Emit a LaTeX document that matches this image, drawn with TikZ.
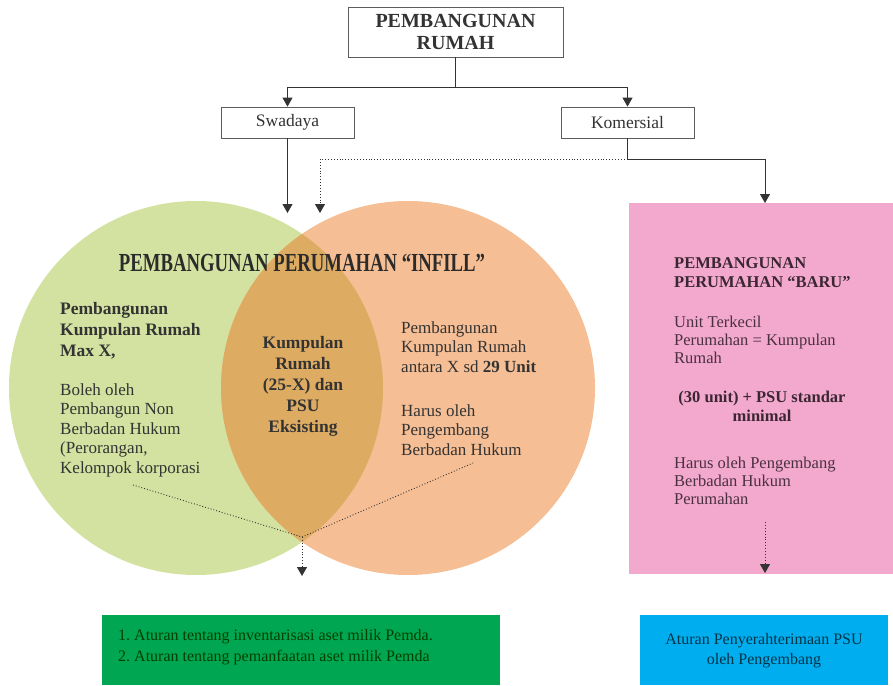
\documentclass[tikz,border=0pt]{standalone}
\usepackage{fontspec}
\usepackage{graphicx}
\setmainfont{Liberation Serif}
\usetikzlibrary{arrows.meta}
\definecolor{cgreen}{HTML}{D3E2A0}
\definecolor{corange}{HTML}{F6BE94}
\definecolor{coverlap}{HTML}{DDAB62}
\definecolor{cpink}{HTML}{F3A9CE}
\definecolor{cgbox}{HTML}{00A651}
\definecolor{cbbox}{HTML}{00AEEF}
\definecolor{ctext}{HTML}{333333}
\definecolor{cptext}{HTML}{4A3040}
\definecolor{cline}{HTML}{333333}
\begin{document}
\frenchspacing
\begin{tikzpicture}[x=1pt,y=-1pt,
  box/.style={draw=cline!80, line width=0.8pt, fill=white, inner sep=0pt},
  arr/.style={draw=cline, line width=0.9pt, -{Triangle[width=10pt,length=9pt]}},
  plain/.style={draw=cline, line width=0.9pt},
  dot/.style={draw=cline, line width=0.9pt, dotted},
  txt/.style={inner sep=0pt, text=ctext, align=left, anchor=north west},
  ctxt/.style={inner sep=0pt, text=ctext, align=center, anchor=north},
  body/.style={font=\fontsize{17}{19.5}\selectfont},
  bbody/.style={font=\fontsize{17.5}{21}\selectfont\bfseries},
  pbody/.style={font=\fontsize{16.5}{18}\selectfont},
  pbold/.style={font=\fontsize{16.5}{19}\selectfont\bfseries}]
\useasboundingbox (0,0) rectangle (893,685);

% top boxes
\node[box, minimum width=215pt, minimum height=50pt, align=center,
  font=\fontsize{20}{22}\selectfont\bfseries, text=ctext] (top) at (455.5,32) {PEMBANGUNAN\\RUMAH};
\node[box, minimum width=133pt, minimum height=31pt, font=\fontsize{17.5}{20}\selectfont, text=ctext] (swa) at (287.5,122.5) {Swadaya};
\node[box, minimum width=133pt, minimum height=31pt, font=\fontsize{17.5}{20}\selectfont, text=ctext] (kom) at (627.5,122.5) {Komersial};

% circles
\node[circle, fill=cgreen, minimum size=374pt, inner sep=0pt] (gc) at (196,388) {};
\node[circle, fill=corange, minimum size=374pt, inner sep=0pt] (oc) at (408,388) {};
\begin{scope}
  \clip (gc.center) circle[radius=187pt];
  \fill[coverlap] (oc.center) circle[radius=187pt];
\end{scope}

% pink box
\node[fill=cpink, minimum width=264pt, minimum height=371pt, inner sep=0pt, anchor=north west] (pink) at (629,203) {};

% bottom boxes
\node[fill=cgbox, minimum width=398pt, minimum height=70pt, inner sep=0pt, anchor=north west] (gbox) at (102,615) {};
\node[fill=cbbox, minimum width=248pt, minimum height=70pt, inner sep=0pt, anchor=north west] (bbox) at (640,615) {};

% coordinates
\coordinate (j1) at (455.5,87);
\coordinate (a1) at (287.5,213);
\coordinate (a2) at (320,213);
\coordinate (kj) at (627.5,159);
\coordinate (pin) at (765,203);
\coordinate (meet) at (302,537);
\coordinate (l1) at (133,485);
\coordinate (r1) at (473,463);
\coordinate (mdown) at (302,576);
\coordinate (ptop) at (765,522);
\coordinate (pdown) at (765,573);

% connectors
\draw[plain] (top.south) -- (j1);
\draw[arr] (j1) -| (swa.north);
\draw[arr] (j1) -| (kom.north);
\draw[arr] (swa.south) -- (a1);
\draw[plain] (kom.south) -- (kj);
\draw[arr] (kj) -| (pin);
\draw[dot] (kj) -| ([yshift=6pt]a2);
\draw[arr] ([yshift=6pt]a2) -- (a2);
\draw[dot] (l1) -- (meet) -- (r1);
\draw[dot] (meet) -- ([yshift=6pt]mdown);
\draw[arr] ([yshift=6pt]mdown) -- (mdown);
\draw[dot] (ptop) -- ([yshift=6pt]pdown);
\draw[arr] ([yshift=6pt]pdown) -- (pdown);

% title
\node[inner sep=0pt, text=ctext!85!black, font=\fontsize{26}{28}\selectfont\bfseries] (title) at (302,263)
  {\scalebox{0.72}[1]{PEMBANGUNAN PERUMAHAN “INFILL”}};

% left circle texts
\node[txt, bbody] (lt1) at (60,302) {Pembangunan\\Kumpulan Rumah\\Max X,};
\node[txt, body] (lt2) at (60,383) {Boleh oleh\\Pembangun Non\\Berbadan Hukum\\(Perorangan,\\Kelompok korporasi};
% lens text
\node[ctxt, bbody] (mt) at (303,336) {Kumpulan\\Rumah\\(25-X) dan\\PSU\\Eksisting};
% right circle texts
\node[txt, body] (rt1) at (401,321) {Pembangunan\\Kumpulan Rumah\\antara X sd \textbf{29 Unit}};
\node[txt, body] (rt2) at (401,404) {Harus oleh\\Pengembang\\Berbadan Hukum};

% pink texts
\node[txt, pbold, text=cptext!80!black] (pt1) at (674,257) {PEMBANGUNAN\\PERUMAHAN “BARU”};
\node[txt, pbody, text=cptext] (pt2) at (674,316) {Unit Terkecil\\Perumahan = Kumpulan\\Rumah};
\node[ctxt, pbold, text=cptext!80!black] (pt3) at (762,391) {(30 unit) + PSU standar\\minimal};
\node[txt, pbody, text=cptext] (pt4) at (674,457) {Harus oleh Pengembang\\Berbadan Hukum\\Perumahan};

% bottom texts
\node[txt, font=\fontsize{16}{21}\selectfont, text=black!75!green] (gt) at (118,629)
  {1. Aturan tentang inventarisasi aset milik Pemda.\\2. Aturan tentang pemanfaatan aset milik Pemda};
\node[inner sep=0pt, align=center, font=\fontsize{16}{20}\selectfont, text=black!70!cbbox] (bt) at (764,651)
  {Aturan Penyerahterimaan PSU\\oleh Pengembang};
\end{tikzpicture}
\end{document}
